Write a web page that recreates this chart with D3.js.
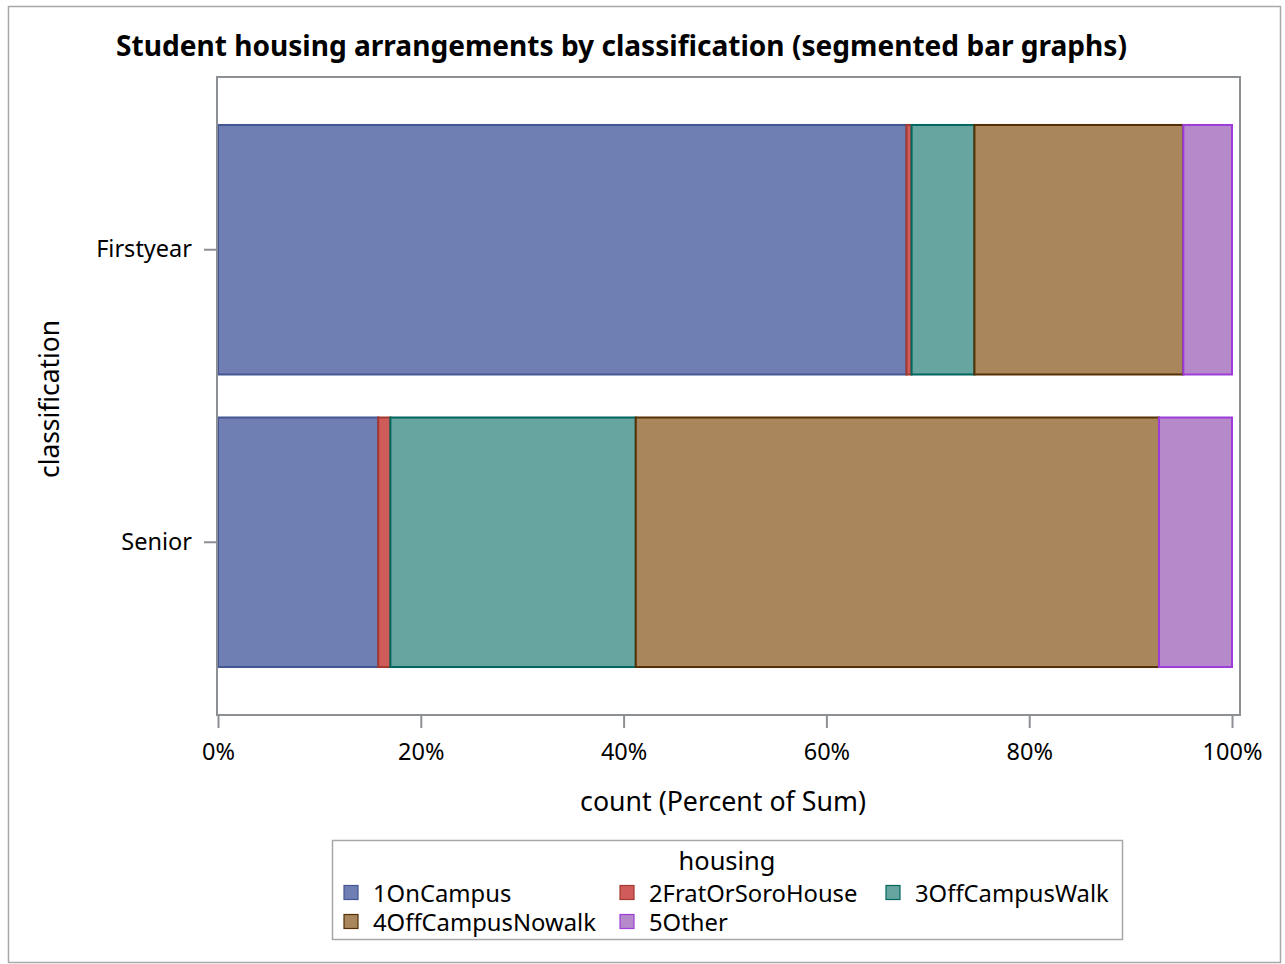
<!DOCTYPE html>
<html>
<head>
<meta charset="utf-8">
<script src="https://cdn.jsdelivr.net/npm/d3@7"></script>
<style>
  html, body { margin: 0; padding: 0; background: #fff; }
  svg { display: block; }
  text { font-family: "Noto Sans", "Open Sans", sans-serif; fill: #000; }
</style>
</head>
<body>
<svg id="chart" width="1285" height="964"></svg>
<script>
const categories = ["Firstyear", "Senior"];
const housing = ["1OnCampus", "2FratOrSoroHouse", "3OffCampusWalk", "4OffCampusNowalk", "5Other"];
const firstyearPct = [67.9, 0.5, 6.2, 20.6, 4.8];
const seniorPct = [15.8, 1.2, 24.2, 51.6, 7.2];
const xTicks = [0, 20, 40, 60, 80, 100];
const fills = ["#6F7EB3", "#D05B5B", "#66A5A0", "#A9865B", "#B689CA"];
const strokes = ["#445694", "#A23A2E", "#01665E", "#543005", "#9D3CDB"];

const seriesByCat = { "Firstyear": firstyearPct, "Senior": seniorPct };
const rows = categories.map(c => {
  const o = { cat: c };
  housing.forEach((h, i) => o[h] = seriesByCat[c][i]);
  return o;
});
const stacked = d3.stack().keys(housing)(rows);

const svg = d3.select("#chart");

function fit(sel, base, target) {
  sel.style("font-size", base + "px");
  const w = sel.node().getComputedTextLength();
  sel.style("font-size", (base * target / w).toFixed(2) + "px");
  return sel;
}

// outer frame
svg.append("rect").attr("x", 8.5).attr("y", 6.5).attr("width", 1272).attr("height", 956)
  .attr("fill", "none").attr("stroke", "#A8A8A8").attr("stroke-width", 1.5);

const plot = { left: 217, top: 77, right: 1240, bottom: 715 };

const x = d3.scaleLinear().domain([0, 100]).range([218, 1232]);
const y = d3.scaleBand().domain(categories).range([plot.top, plot.bottom])
  .paddingInner(0.147).paddingOuter(0.164);

// title
const title = svg.append("text").attr("x", 621.5).attr("y", 56).attr("text-anchor", "middle")
  .style("font-weight", "bold")
  .text("Student housing arrangements by classification (segmented bar graphs)");
fit(title, 26, 1011);

// bars
const g = svg.append("g");
stacked.forEach((layer, i) => {
  g.selectAll(null).data(layer).enter().append("rect")
    .attr("x", d => x(d[0]))
    .attr("y", d => y(d.data.cat))
    .attr("width", d => x(d[1]) - x(d[0]))
    .attr("height", y.bandwidth())
    .attr("fill", fills[i])
    .attr("stroke", strokes[i])
    .attr("stroke-width", 2);
});

// plot frame
svg.append("rect").attr("x", plot.left).attr("y", plot.top)
  .attr("width", plot.right - plot.left).attr("height", plot.bottom - plot.top)
  .attr("fill", "none").attr("stroke", "#8C8F94").attr("stroke-width", 2);

// x axis
const xAxis = svg.append("g").attr("transform", `translate(0,${plot.bottom})`)
  .call(d3.axisBottom(x).tickValues(xTicks).tickFormat(d => d + "%").tickSize(13).tickPadding(15));
xAxis.select(".domain").remove();
xAxis.selectAll(".tick line").attr("stroke", "#8C8F94").attr("stroke-width", 2);
xAxis.selectAll(".tick text").style("font-size", "23.5px").style("font-family", "'Noto Sans', sans-serif").attr("fill", "#000");

// y axis
const yAxis = svg.append("g").attr("transform", `translate(${plot.left},0)`)
  .call(d3.axisLeft(y).tickSize(13).tickPadding(12));
yAxis.select(".domain").remove();
yAxis.selectAll(".tick line").attr("stroke", "#8C8F94").attr("stroke-width", 2);
yAxis.selectAll(".tick text").style("font-size", "23.5px").style("font-family", "'Noto Sans', sans-serif").attr("fill", "#000");

// axis titles
fit(svg.append("text").attr("x", 723).attr("y", 811).attr("text-anchor", "middle")
  .text("count (Percent of Sum)"), 23, 286);
fit(svg.append("text").attr("transform", "translate(59,399) rotate(-90)").attr("text-anchor", "middle")
  .text("classification"), 23, 158);

// legend
const lg = svg.append("g");
lg.append("rect").attr("x", 332.5).attr("y", 840.5).attr("width", 790).attr("height", 99)
  .attr("fill", "none").attr("stroke", "#A8A8A8").attr("stroke-width", 1.5);
fit(lg.append("text").attr("x", 727).attr("y", 870).attr("text-anchor", "middle")
  .text("housing"), 23, 97);
const legPos = [[344, 894], [620, 894], [886, 894], [344, 923], [620, 923]];
const legSize = 23.8;
housing.forEach((h, i) => {
  const [lx, ly] = legPos[i];
  lg.append("rect").attr("x", lx).attr("y", ly - 8.5).attr("width", 14).attr("height", 14)
    .attr("fill", fills[i]).attr("stroke", strokes[i]).attr("stroke-width", 1.2);
  lg.append("text").attr("x", lx + 29).attr("y", ly + 8).style("font-size", legSize + "px").text(h);
});
</script>
</body>
</html>
